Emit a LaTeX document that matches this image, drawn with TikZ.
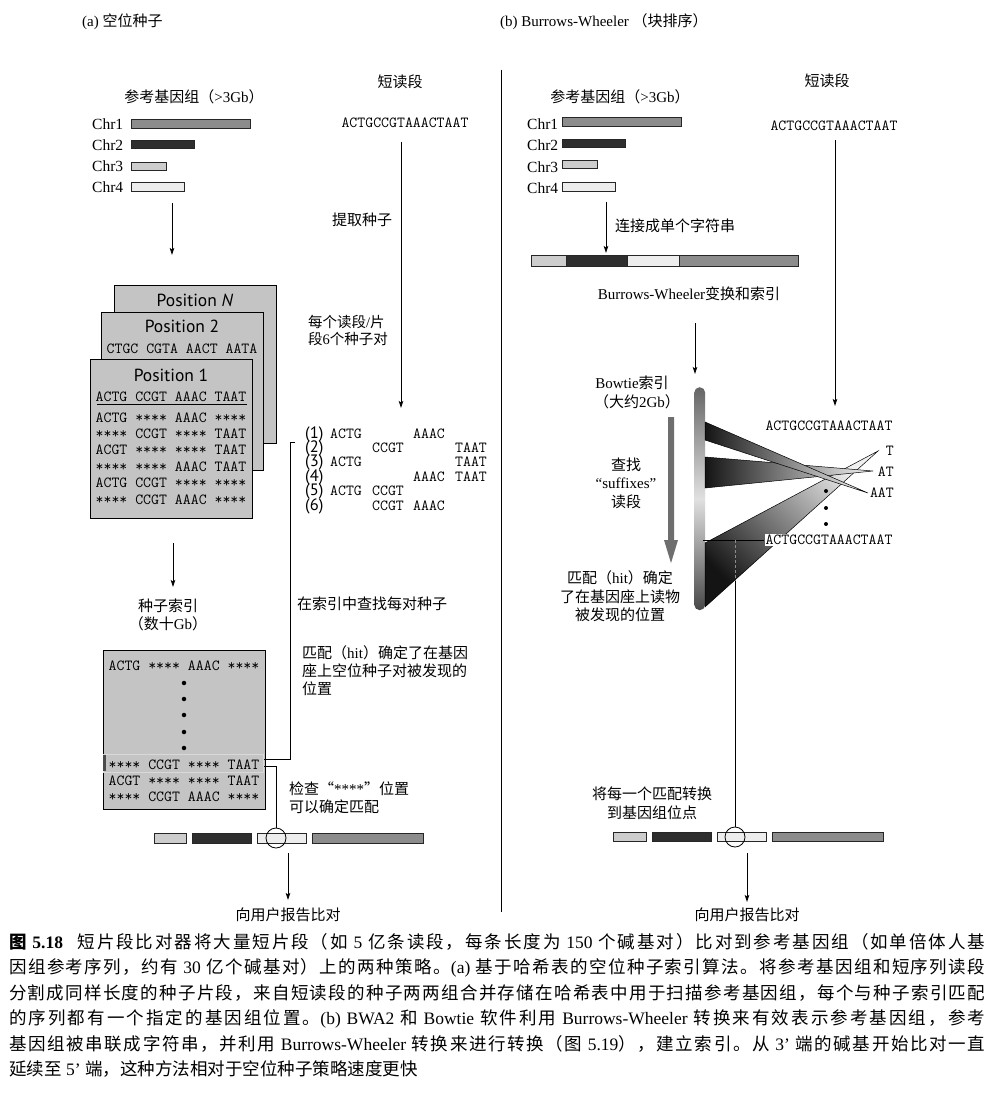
\documentclass[tikz,border=0pt]{standalone}
\usepackage{fontspec}
\usetikzlibrary{arrows.meta}
\setmainfont{Liberation Serif}
\newfontfamily\cjk{Noto Sans CJK SC}
\newfontfamily\possans{PT Sans}
\XeTeXinterchartokenstate=1
\newXeTeXintercharclass\CJKcls
\newcount\cjkc
\def\setcjkrange#1#2{\cjkc=#1\relax\loop\XeTeXcharclass\cjkc=\CJKcls\relax\ifnum\cjkc<#2\relax\advance\cjkc by 1\relax\repeat}
\setcjkrange{"4E00}{"9FFF}
\setcjkrange{"3000}{"303F}
\setcjkrange{"FF00}{"FFEF}
\XeTeXinterchartoks 0 \CJKcls = {\cjk}
\XeTeXinterchartoks 4095 \CJKcls = {\cjk}
\XeTeXinterchartoks \CJKcls 0 = {\rmfamily}
\XeTeXinterchartoks \CJKcls 4095 = {\rmfamily}
\XeTeXinterchartoks \CJKcls \CJKcls = {\hskip 0pt plus 3pt\relax}
\definecolor{gMed}{HTML}{8C8C8C}
\definecolor{gDark}{HTML}{2E2E2E}
\definecolor{gLight}{HTML}{CDCDCD}
\definecolor{gWhite}{HTML}{EDEDED}
\definecolor{boxg}{HTML}{C4C4C4}
\definecolor{arrg}{HTML}{6E6E6E}
\tikzset{
 lbl/.style={font=\fontsize{15}{18.5}\selectfont, inner sep=0},
 chrl/.style={font=\fontsize{15.5}{18}\selectfont, inner sep=0, anchor=west},
 seqt/.style={font=\ttfamily\fontsize{15.4}{18}\selectfont, inner sep=0},
 posf/.style={font=\possans\fontsize{17.5}{20}\selectfont, inner sep=0},
 numf/.style={font=\possans\fontsize{16.5}{19}\selectfont, inner sep=0},
 barn/.style={draw=black!85, line width=0.6, inner sep=0, outer sep=0, anchor=north west},
 boxn/.style={draw=black, line width=1, fill=boxg, inner sep=0, outer sep=0, anchor=north west},
 arr/.style={line width=0.8, -{Stealth[length=7pt,width=4.5pt,inset=1.5pt]}},
 ln/.style={line width=0.8},
 dotn/.style={circle, fill=black, inner sep=0, minimum size=4.5},
 ring/.style={circle, draw=black, line width=0.8, inner sep=0, minimum size=20},
 wedge/.style={draw=black, line width=0.5},
 capl/.style={font=\fontsize{17.5}{20}\selectfont, inner sep=0, anchor=base west},
}
\begin{document}
\begin{tikzpicture}[x=1pt,y=-1pt]
\fill[white] (0,0) rectangle (991,1097);
\useasboundingbox (0,0) rectangle (991,1097);

% ================= LEFT PANEL =================
\node[lbl, anchor=west] (ta) at (82,22) {(a) 空位种子};
\node[lbl] (refL) at (194,97) {参考基因组（>3Gb）};
\node[lbl] (srLt) at (400,82) {短读段};
\node[seqt] (srL) at (405,123) {ACTGCCGTAAACTAAT};
\foreach \i/\y in {1/124,2/145,3/166,4/187} \node[chrl] (cl\i) at (92,\y) {Chr\i};
\node[barn, fill=gMed, minimum width=119, minimum height=9] (c1) at (131,119) {};
\node[barn, fill=gDark, minimum width=63, minimum height=8.5] (c2) at (131,140) {};
\node[barn, fill=gLight, minimum width=35, minimum height=8.5] (c3) at (131,162) {};
\node[barn, fill=gWhite, minimum width=53, minimum height=9] (c4) at (131,182) {};
\coordinate (a1s) at (172,203); \coordinate (a1e) at (172,255);
\draw[arr] (a1s) -- (a1e);

\coordinate (s1s) at (401,142); \coordinate (s1e) at (401,408);
\draw[arr] (s1s) -- (s1e);
\node[lbl] (ext) at (362,220) {提取种子};
\node[lbl, anchor=west, font=\fontsize{14.5}{17}\selectfont] (per1) at (308,322) {每个读段/片};
\node[lbl, anchor=west, font=\fontsize{14.5}{17}\selectfont] (per2) at (308,339) {段6个种子对};

% position boxes
\node[boxn, minimum width=162, minimum height=158] (pN) at (114,285) {};
\node[posf] (pNt) at (195,300) {Position \textit{N}};
\node[boxn, minimum width=162, minimum height=158] (p2) at (101,312) {};
\node[posf] (p2t) at (182,326) {Position 2};
\node[seqt, anchor=base] (p2s) at (182,353) {CTGC CGTA AACT AATA};
\node[boxn, minimum width=162, minimum height=159] (p1) at (90,359) {};
\node[posf] (p1t) at (171,375) {Position 1};
\node[seqt, anchor=base] (p1s) at (171,401) {ACTG CCGT AAAC TAAT};
\draw[line width=1] (97,404.5) -- (247,404.5);
\foreach \t [count=\k] in {ACTG **** AAAC ****,**** CCGT **** TAAT,ACGT **** **** TAAT,**** **** AAAC TAAT,ACTG CCGT **** ****,**** CCGT AAAC ****}
  \node[seqt, anchor=base] (p1r\k) at (171,405.6+16.4*\k) {\t};

% seed pairs
\foreach \r in {1,...,6} \node[numf, anchor=base west] (sn\r) at (305,423.6+14.4*\r) {(\r)};
\foreach \r/\x/\t in {1/330/ACTG,1/413/AAAC,2/372/CCGT,2/455/TAAT,3/330/ACTG,3/455/TAAT,4/413/AAAC,4/455/TAAT,5/330/ACTG,5/372/CCGT,6/372/CCGT,6/413/AAAC}
  \node[seqt, anchor=base west] (sd\r\x) at (\x,423.6+14.4*\r) {\t};

% seed index
\node[lbl] (sidx) at (168,606) {种子索引};
\node[lbl] (sidx2) at (168,624) {（数十Gb）};
\coordinate (a2s) at (173,543); \coordinate (a2e) at (173,587);
\draw[arr] (a2s) -- (a2e);
\node[boxn, minimum width=162, minimum height=159] (ix) at (103,650) {};
\node[seqt, anchor=base] (ix1) at (184,670.5) {ACTG **** AAAC ****};
\foreach \y [count=\k] in {683,699,715,732,748} \node[dotn] (ixd\k) at (184,\y) {};
\node[draw=white!85!black, line width=1, minimum width=160, minimum height=18, inner sep=0, anchor=north west] (hl) at (103,754) {};
\draw[line width=2.4, black!70] (104.5,755) -- (104.5,771);
\node[seqt, anchor=base] (ix2) at (184,769.5) {**** CCGT **** TAAT};
\node[seqt, anchor=base] (ix3) at (184,785.5) {ACGT **** **** TAAT};
\node[seqt, anchor=base] (ix4) at (184,801.5) {**** CCGT AAAC ****};

\coordinate (brk) at (295,442);
\draw[ln] (brk) -- ++(-5,0) |- ([yshift=4pt]hl.east);

\node[lbl, anchor=west] (look) at (297,604) {在索引中查找每对种子};
\node[lbl, anchor=west] (hitL1) at (302,653) {匹配（hit）确定了在基因};
\node[lbl, anchor=west] (hitL2) at (302,671) {座上空位种子对被发现的};
\node[lbl, anchor=west] (hitL3) at (302,689) {位置};
\node[lbl, anchor=west] (chk1) at (289,789) {检查{\cjk “}****{\cjk ”}位置};
\node[lbl, anchor=west] (chk2) at (289,807) {可以确定匹配};

% bottom genome bar left
\node[barn, fill=gLight, minimum width=32, minimum height=10] (bL1) at (154,833) {};
\node[barn, fill=gDark, minimum width=59, minimum height=10] (bL2) at (192,833) {};
\node[barn, fill=gWhite, minimum width=49, minimum height=10] (bL3) at (257,833) {};
\node[barn, fill=gMed, minimum width=111, minimum height=10] (bL4) at (312,833) {};
\node[ring] (cL) at (276,838) {};
\draw[ln] ([yshift=-3pt]hl.east) -| (cL.north);
\coordinate (a5s) at (288,853); \coordinate (a5e) at (288,900);
\draw[arr] (a5s) -- (a5e);
\node[lbl] (repL) at (288,915) {向用户报告比对};

% separator
\coordinate (sepT) at (501,70); \coordinate (sepB) at (501,912);
\draw[ln] (sepT) -- (sepB);

% ================= RIGHT PANEL =================
\node[lbl, anchor=west] (tb) at (500,22) {(b) Burrows-Wheeler （块排序）};
\node[lbl] (refR) at (620,97) {参考基因组（>3Gb）};
\node[lbl] (srRt) at (827,81) {短读段};
\node[seqt] (srR) at (834,126) {ACTGCCGTAAACTAAT};
\foreach \i/\y in {1/124,2/145,3/167,4/188} \node[chrl] (dl\i) at (527,\y) {Chr\i};
\node[barn, fill=gMed, minimum width=119, minimum height=9] (d1) at (562,117) {};
\node[barn, fill=gDark, minimum width=63, minimum height=8.5] (d2) at (562,139) {};
\node[barn, fill=gLight, minimum width=35, minimum height=8.5] (d3) at (562,160) {};
\node[barn, fill=gWhite, minimum width=53, minimum height=9] (d4) at (562,182) {};
\coordinate (a3s) at (606,202); \coordinate (a3e) at (606,253);
\draw[arr] (a3s) -- (a3e);
\node[lbl, anchor=west] (concat) at (615,226) {连接成单个字符串};
\node[barn, fill=gLight, minimum width=35, minimum height=11] (k1) at (531,255) {};
\node[barn, fill=gDark, minimum width=61, minimum height=11] (k2) at (566,255) {};
\node[barn, fill=gWhite, minimum width=52, minimum height=11] (k3) at (627,255) {};
\node[barn, fill=gMed, minimum width=119, minimum height=11] (k4) at (679,255) {};
\node[lbl] (bwt) at (689,294) {Burrows-Wheeler变换和索引};
\coordinate (s2s) at (835,140); \coordinate (s2e) at (835,406);
\draw[arr] (s2s) -- (s2e);
\coordinate (a4s) at (695,323); \coordinate (a4e) at (695,374);
\draw[arr] (a4s) -- (a4e);
\node[lbl] (bt1) at (632,383) {Bowtie索引};
\node[lbl] (bt2) at (637,402) {（大约2Gb）};
\fill[arrg] (668,417) -- (674,417) -- (674,540) -- (678,540) -- (671,563) -- (664,540) -- (668,540) -- cycle;
\node[lbl] (find1) at (626,465) {查找};
\node[lbl] (find2) at (626,483) {“suffixes”};
\node[lbl] (find3) at (626,502) {读段};
\node[lbl] (hitR1) at (620,578) {匹配（hit）确定};
\node[lbl] (hitR2) at (620,597) {了在基因座上读物};
\node[lbl] (hitR3) at (620,615) {被发现的位置};

% bowtie bar and wedges
\node[rounded corners=5.5, minimum width=11, minimum height=223, inner sep=0, anchor=north west,
      top color=black!60, bottom color=black!72, middle color=black!12] (bw) at (694,387) {};
\path[wedge, top color=black!92, bottom color=black!6, shading angle=135] (705,543) -- (878,451) -- (705,607) -- cycle;
\path[wedge, left color=black!92, right color=black!4] (705,457) -- (873,471) -- (705,488) -- cycle;
\path[wedge, left color=black!92, right color=black!4] (705,422) -- (868,493) -- (705,440) -- cycle;
\node[seqt] (rt1) at (829,426) {ACTGCCGTAAACTAAT};
\node[seqt, anchor=east] (rT) at (894,451) {T};
\node[seqt, anchor=east] (rAT) at (894,472) {AT};
\node[seqt, anchor=east] (rAAT) at (894,493) {AAT};
\foreach \y [count=\k] in {491,508,524} \node[dotn, minimum size=4] (rd\k) at (826,\y) {};
\node[seqt, fill=white, inner sep=1] (rt2) at (829,540) {ACTGCCGTAAACTAAT};
\coordinate (bwo) at (703,540);
\draw[line width=0.7] (bwo) -- (rt2.west);

% bottom genome bar right
\node[barn, fill=gLight, minimum width=33, minimum height=9.5] (bR1) at (613,832) {};
\node[barn, fill=gDark, minimum width=59, minimum height=9.5] (bR2) at (652,832) {};
\node[barn, fill=gWhite, minimum width=49, minimum height=9.5] (bR3) at (717,832) {};
\node[barn, fill=gMed, minimum width=111, minimum height=9.5] (bR4) at (772,832) {};
\node[ring] (cR) at (735,837) {};
\coordinate (vj) at (735,540); \coordinate (vk) at (735,581);
\draw[line width=0.7, densely dashed, black!45] (vj) -- (vk);
\draw[ln] (vk) -- (cR.north);
\node[lbl] (cv1) at (652,794) {将每一个匹配转换};
\node[lbl] (cv2) at (652,813) {到基因组位点};
\coordinate (a6s) at (747,853); \coordinate (a6e) at (747,902);
\draw[arr] (a6s) -- (a6e);
\node[lbl] (repR) at (747,915) {向用户报告比对};

% ================= CAPTION =================
\node[capl] (cap1) at (9,948.5) {\hbox to 976pt{{\bfseries 图 5.18}\hskip 12pt plus 4pt 短片段比对器将大量短片段（如 5 亿条读段，每条长度为 150 个碱基对）比对到参考基因组（如单倍体人基}};
\node[capl] (cap2) at (9,973.9) {\hbox to 976pt{因组参考序列，约有 30 亿个碱基对）上的两种策略。(a) 基于哈希表的空位种子索引算法。将参考基因组和短序列读段}};
\node[capl] (cap3) at (9,999.3) {\hbox to 976pt{分割成同样长度的种子片段，来自短读段的种子两两组合并存储在哈希表中用于扫描参考基因组，每个与种子索引匹配}};
\node[capl] (cap4) at (9,1024.7) {\hbox to 976pt{的序列都有一个指定的基因组位置。(b) BWA2 和 Bowtie 软件利用 Burrows-Wheeler 转换来有效表示参考基因组，参考}};
\node[capl] (cap5) at (9,1050.1) {\hbox to 976pt{基因组被串联成字符串，并利用 Burrows-Wheeler 转换来进行转换（图 5.19），建立索引。从 3’ 端的碱基开始比对一直}};
\node[capl] (cap6) at (9,1075.5) {延续至 5’ 端，这种方法相对于空位种子策略速度更快};
\end{tikzpicture}
\end{document}
